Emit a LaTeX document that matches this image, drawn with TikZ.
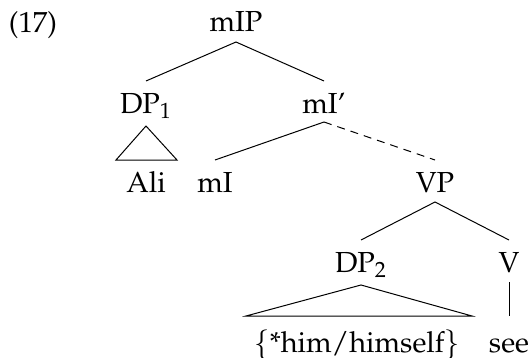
\documentclass[tikz,border=0pt]{standalone}
\usepackage[T1]{fontenc}
\usepackage{mathpazo}
\usetikzlibrary{calc}
\begin{document}
\begin{tikzpicture}[x=0.5pt,y=-0.5pt,
  lbl/.style={anchor=base,inner sep=0pt,font=\fontsize{14.5}{17}\selectfont},
  edge/.style={line width=0.5pt},
  dashedge/.style={line width=0.5pt,dash pattern=on 4pt off 3pt}]
\useasboundingbox (0,0) rectangle (530,358);
\node[lbl] (ex) at (33,33) {(17)};
\node[lbl] (mIP) at (236,32) {mIP};
\node[lbl] (DP1) at (146,113) {DP$_1$};
\node[lbl] (mIbar) at (324,113) {mI'};
\node[lbl] (Ali) at (146,192) {Ali};
\node[lbl] (mI) at (215,192) {mI};
\node[lbl] (VP) at (435,192) {VP};
\node[lbl] (DP2) at (361,272) {DP$_2$};
\node[lbl] (V) at (509,272) {V};
\node[lbl] (him) at (357,352) {$\{$*him/himself$\}$};
\node[lbl] (see) at (509,352) {see};
% mIP
\draw[edge] ($(DP1.base)+(0,-32)$) -- ($(mIP.base)+(0,10)$) -- ($(mIbar.base)+(0,-32)$);
% DP1 triangle
\draw[edge] ($(DP1.base)+(0,13)$) -- ($(Ali.base)+(-30,-32)$) -- ($(Ali.base)+(31,-32)$) -- cycle;
% mI'
\draw[edge] ($(mIbar.base)+(0,9)$) -- ($(mI.base)+(0,-32)$);
\draw[dashedge] ($(mIbar.base)+(0,9)$) -- ($(VP.base)+(0,-32)$);
% VP
\draw[edge] ($(DP2.base)+(0,-32)$) -- ($(VP.base)+(0,10)$) -- ($(V.base)+(0,-32)$);
% DP2 triangle
\draw[edge] ($(DP2.base)+(0,13)$) -- ($(him.base)+(-111,-36)$) -- ($(him.base)+(115,-36)$) -- cycle;
% V
\draw[edge] ($(V.base)+(0,10)$) -- ($(see.base)+(0,-36)$);
\end{tikzpicture}
\end{document}
